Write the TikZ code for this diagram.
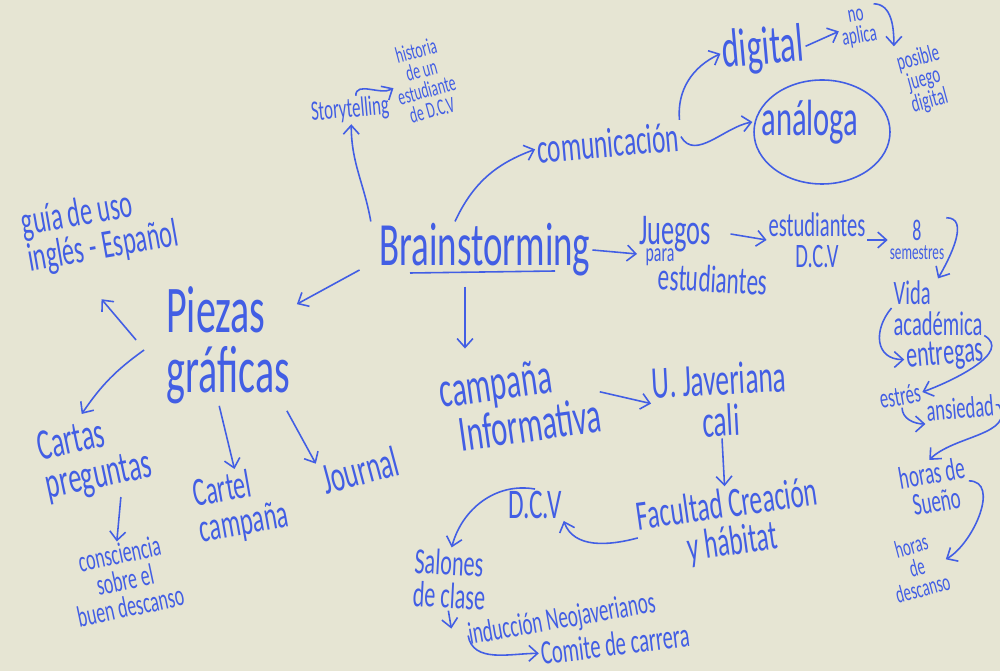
\documentclass[tikz,border=0pt]{standalone}
\usepackage{fontspec}
\newfontfamily\handfont[FakeStretch=0.6]{Carlito}
\usetikzlibrary{arrows.meta}
\definecolor{ink}{RGB}{66,94,228}
\definecolor{paper}{RGB}{230,229,211}
\tikzset{
  hw/.style={text=ink, align=center, inner sep=1pt, font=\handfont\fontsize{#1}{\dimexpr#1pt*9/10\relax}\selectfont},
  arr/.style={ink, line width=0.9pt, -{Straight Barb[length=5pt,width=9pt]}},
  pen/.style={ink, line width=0.9pt}
}
\begin{document}
\begin{tikzpicture}[x=0.02cm,y=0.02cm]

% Hoja
\fill[paper] (0,0) rectangle (1000,-671);
\useasboundingbox (0,0) rectangle (1000,-671);

% Idea central
\node[hw=35] (brain) at (485,-250) {Brainstorming};
\draw[pen] (410,-273) -- (555,-271);

% Comunicacion
\node[hw=24, rotate=5] (comm) at (608,-143) {comunicación};
\node[hw=31, rotate=5] (digital) at (763,-50) {digital};
\node[hw=14, rotate=10] (noapl) at (858,-28) {no\\aplica};
\node[hw=14, rotate=15] (posible) at (924,-80) {posible\\juego\\digital};
\node[hw=29] (analoga) at (810,-122) {análoga};
\draw[pen] (822,-132) ellipse [x radius=68, y radius=52];

\draw[arr] (brain.north) ++(-30,0) to[out=65,in=200] (comm.west);
\draw[arr] (comm.north east) to[out=95,in=205] (digital.west);
\draw[arr] (comm.east) to[out=-60,in=190] ([xshift=-4pt]analoga.west);
\draw[arr] (digital.east) -- (noapl.west);
\draw[arr] (noapl.north east) to[out=0,in=90] ([xshift=-12pt]posible.north);

% Storytelling
\node[hw=16, rotate=5] (story) at (350,-110) {Storytelling};
\node[hw=13, rotate=15] (historia) at (424,-80) {historia\\de un\\estudiante\\de D.C.V};
\draw[arr] ([xshift=-65pt]brain.north) to[out=100,in=-90] (story.south);
\draw[arr] ([xshift=4pt]story.north) to[out=90,in=210] (historia.west);

% Juegos
\node[hw=25] (juegos) at (675,-234) {Juegos};
\node[hw=15] (para) at (660,-257) {para};
\node[hw=22, rotate=-3] (estud) at (713,-279) {estudiantes};
\node[hw=19.5] (estdcv) at (817,-240) {estudiantes\\D.C.V};
\node[hw=12.5] (sem) at (917,-240) {{\fontsize{17}{17}\selectfont 8}\\semestres};
\node[hw=19.5, align=left] (vida) at (938,-308) {Vida\\académica};
\node[hw=21, rotate=5] (entregas) at (945,-356) {entregas};
\node[hw=16, rotate=10] (estres) at (900,-396) {estrés};
\node[hw=17.5, rotate=5] (ansiedad) at (960,-408) {ansiedad};
\node[hw=18, rotate=10] (sueno) at (934,-487) {horas de\\Sueño};
\node[hw=14, rotate=15] (descanso) at (917,-567) {horas\\de\\descanso};

\draw[arr] (brain.east) -- (juegos.south west);
\draw[arr] ([xshift=10pt]juegos.east) -- (estdcv.west);
\draw[arr] (estdcv.east) -- (sem.west);
\draw[arr] (sem.north east) to[out=0,in=60] (vida.north);
\draw[arr] (vida.west) to[out=230,in=180,looseness=1.4] (entregas.west);
\draw[arr] (entregas.north east) to[out=-30,in=20] (estres.east);
\draw[arr] (estres.south) to[out=-90,in=180] (ansiedad.south west);
\draw[arr] (ansiedad.east) -- ++(3,0) to[out=-60,in=45] (sueno.north);
\draw[arr] (sueno.east) to[out=0,in=30] (descanso.east);

% Piezas graficas
\node[hw=38, align=left] (piezas) at (228,-345) {Piezas\\gráficas};
\node[hw=23, rotate=10, align=left] (guia) at (100,-230) {guía de uso\\inglés - Español};
\node[hw=25, rotate=12, align=left] (cartas) at (95,-458) {Cartas\\preguntas};
\node[hw=17, rotate=12] (consc) at (125,-580) {consciencia\\sobre el\\buen descanso};
\node[hw=23, rotate=10, align=left] (cartel) at (241,-506) {Cartel\\campaña};
\node[hw=25, rotate=15] (journal) at (360,-470) {Journal};

\draw[arr] ([shift={(-18,-20)}]brain.west) -- ([shift={(5,-20)}]piezas.north east);
\draw[arr] ([shift={(-28,5)}]piezas.west) -- ([shift={(-5,-32)}]guia.south);
\draw[arr] ([shift={(-20,-5)}]piezas.west) to[bend right=10] ([shift={(-5,5)}]cartas.north);
\draw[arr] ([xshift=10pt]cartas.south) -- (consc.north);
\draw[arr] ([xshift=-5pt]piezas.south) -- (cartel.north);
\draw[arr] ([shift={(-5,-5)}]piezas.south east) -- (journal.north west);

% Campana informativa
\node[hw=29, rotate=8, align=left] (campana) at (520,-403) {campaña\\\hspace*{8pt}Informativa};
\node[hw=26, rotate=3] (javeriana) at (720,-400) {U. Javeriana\\cali};
\node[hw=24, rotate=8] (facultad) at (730,-525) {Facultad Creación\\y hábitat};
\node[hw=24] (dcv) at (535,-505) {D.C.V};
\node[hw=21, rotate=-3, align=left] (salones) at (450,-579) {Salones\\de clase};
\node[hw=18, rotate=10] (induccion) at (562,-620) {inducción Neojaverianos};
\node[hw=19.5, rotate=7] (comite) at (615,-644) {Comite de carrera};

\draw[arr] (brain.south) ++(-20,-8) -- ++(0,-62);
\draw[arr] (campana.east) -- (javeriana.west);
\draw[arr] (javeriana.south) -- (facultad.north);
\draw[arr] (facultad.west) to[out=195,in=-70] (dcv.south east);
\draw[arr] (dcv.north) to[out=170,in=75] (salones.north);
\draw[arr] (salones.south) -- ++(3,-18);
\draw[arr] ([xshift=-55pt]induccion.south) to[out=-80,in=180] (comite.west);

\end{tikzpicture}
\end{document}
